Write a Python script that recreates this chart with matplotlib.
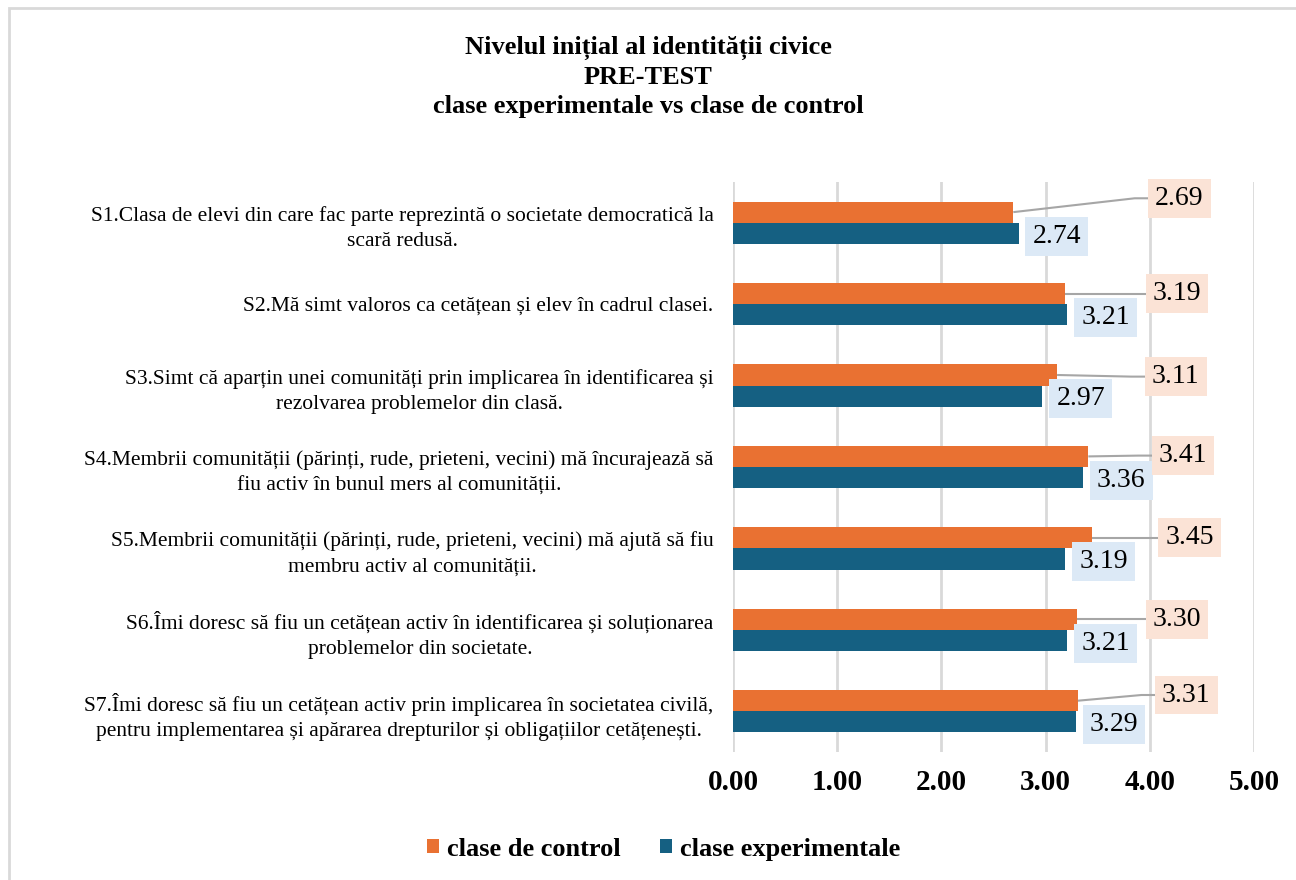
import matplotlib.pyplot as plt
from matplotlib.patches import Rectangle

plt.rcParams['font.family'] = ['Liberation Serif', 'DejaVu Serif']

# date
categorii = [
    "S1.Clasa de elevi din care fac parte reprezintă o societate democratică la\nscară redusă.",
    "S2.Mă simt valoros ca cetățean și elev în cadrul clasei.",
    "S3.Simt că aparțin unei comunități prin implicarea în identificarea și\nrezolvarea problemelor din clasă.",
    "S4.Membrii comunității (părinți, rude, prieteni, vecini) mă încurajează să\nfiu activ în bunul mers al comunității.",
    "S5.Membrii comunității (părinți, rude, prieteni, vecini) mă ajută să fiu\nmembru activ al comunității.",
    "S6.Îmi doresc să fiu un cetățean activ în identificarea și soluționarea\nproblemelor din societate.",
    "S7.Îmi doresc să fiu un cetățean activ prin implicarea în societatea civilă,\npentru implementarea și apărarea drepturilor și obligațiilor cetățenești.",
]
control = [2.69, 3.19, 3.11, 3.41, 3.45, 3.30, 3.31]
experimental = [2.74, 3.21, 2.97, 3.36, 3.19, 3.21, 3.29]
x_ticks = [0, 1, 2, 3, 4, 5]

# pozitii etichete control (x si deplasare y in unitati de date)
label_x = [4.285, 4.26, 4.25, 4.32, 4.38, 4.26, 4.35]
label_dy = [-0.17, 0.0, 0.02, -0.01, 0.0, 0.0, -0.07]

c_orange = '#E97132'
c_blue = '#156082'
c_line = '#A6A6A6'

fig = plt.figure(figsize=(12.96, 8.8), dpi=100)
ax = fig.add_axes([733/1296, 1-752/880, 521/1296, 570/880])

y = list(range(len(categorii)))
h = 0.26
y_c = [v - h/2 for v in y]
y_e = [v + h/2 for v in y]

ax.barh(y_c, control, height=h, color=c_orange, zorder=3, label='clase de control')
ax.barh(y_e, experimental, height=h, color=c_blue, zorder=3, label='clase experimentale')

ax.set_xlim(0, 5)
ax.set_ylim(len(categorii) - 0.5, -0.5)
ax.set_xticks(x_ticks)
ax.set_xticklabels([f'{t:.2f}' for t in x_ticks], fontsize=21, fontweight='bold')
ax.set_yticks(y)
ax.set_yticklabels(categorii, fontsize=15.5, linespacing=1.45, multialignment='center')
ax.tick_params(axis='both', length=0)
ax.tick_params(axis='x', pad=12)
ax.tick_params(axis='y', pad=14)
ax.grid(axis='x', color='#D9D9D9', linewidth=2, zorder=0)
for s in ax.spines.values():
    s.set_visible(False)

# etichete experimentale
for yy, v in zip(y_e, experimental):
    ax.annotate(f'{v:.2f}', (v, yy), xytext=(10, -2), textcoords='offset points',
                ha='left', va='center', fontsize=20, zorder=5,
                bbox=dict(boxstyle='square,pad=0.25', fc='#DCE9F6', ec='none'))

# etichete control cu linii de legatura
for yy, v, lx, dy in zip(y_c, control, label_x, label_dy):
    ly = yy + dy
    ax.text(lx, ly, f'{v:.2f}', ha='center', va='center', fontsize=20, zorder=5,
            bbox=dict(boxstyle='square,pad=0.25', fc='#FBE3D6', ec='none'))
    ax.plot([v, lx - 0.43, lx], [yy, ly, ly], color=c_line, lw=1.5, zorder=4,
            solid_capstyle='butt')

fig.text(0.5, 1-77/880, 'Nivelul inițial al identității civice\nPRE-TEST\nclase experimentale vs clase de control',
         ha='center', va='center', fontsize=19, fontweight='bold', linespacing=1.33)

fig.legend(loc='center', bbox_to_anchor=(0.512, 1-849/880), ncol=2, frameon=False,
           prop={'size': 19, 'weight': 'bold'}, handlelength=0.45, handleheight=0.45,
           handletextpad=0.3, columnspacing=1.5)

fig.patches.append(Rectangle((8.5/1296, -0.1), 1.2, 1.1 - 8.5/880, transform=fig.transFigure,
                             fill=False, ec='#D9D9D9', lw=2))

fig.savefig('out.png', dpi=100)
